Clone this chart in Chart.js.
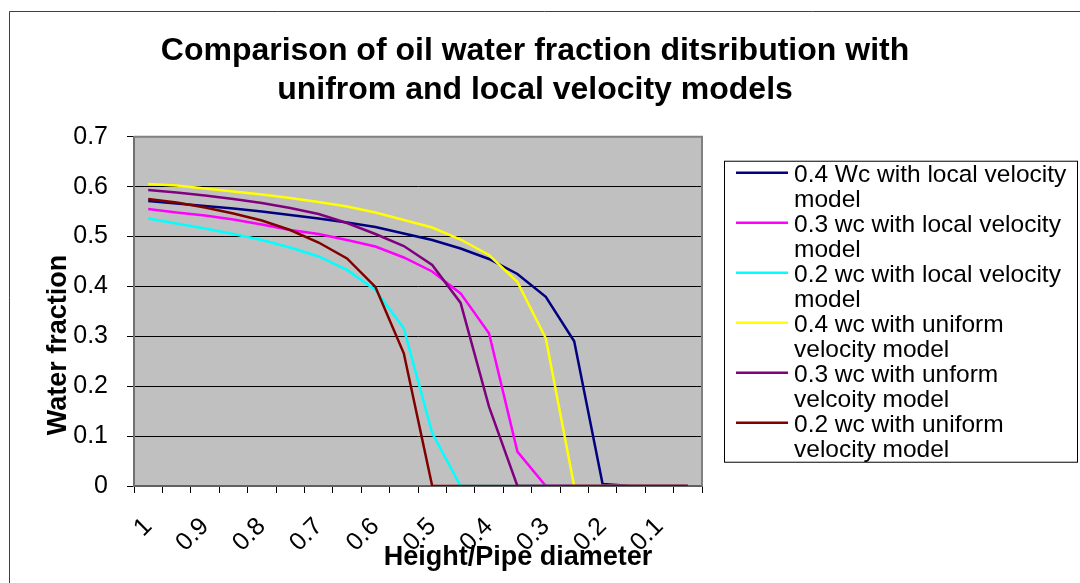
<!DOCTYPE html>
<html>
<head>
<meta charset="utf-8">
<script src="https://cdn.jsdelivr.net/npm/chart.js@4.4.1/dist/chart.umd.min.js"></script>
<style>
  html, body { margin: 0; padding: 0; background: #fff; }
  #wrap { width: 1080px; height: 583px; position: relative; }
  canvas { display: block; }
</style>
</head>
<body>
<div id="wrap"><canvas id="chart" width="1080" height="583"></canvas></div>
<script>
// Height / pipe diameter categories (every other one is labelled on the axis)
const heightRatios = ['1', '0.95', '0.9', '0.85', '0.8', '0.75', '0.7', '0.65', '0.6', '0.55',
                      '0.5', '0.45', '0.4', '0.35', '0.3', '0.25', '0.2', '0.15', '0.1', '0.05'];

// Water fraction per category for each case
const wc04Local   = [0.571, 0.566, 0.561, 0.556, 0.550, 0.543, 0.536, 0.528, 0.519, 0.506,
                     0.493, 0.476, 0.455, 0.425, 0.379, 0.290, 0.004, 0, 0, 0];
const wc03Local   = [0.555, 0.548, 0.542, 0.534, 0.524, 0.513, 0.505, 0.493, 0.480, 0.458,
                     0.430, 0.386, 0.306, 0.069, 0, 0, 0, 0, 0, 0];
const wc02Local   = [0.536, 0.526, 0.516, 0.505, 0.493, 0.478, 0.460, 0.433, 0.393, 0.316,
                     0.106, 0, 0, 0, 0, 0, 0, 0, 0, 0];
const wc04Uniform = [0.605, 0.602, 0.596, 0.590, 0.584, 0.577, 0.569, 0.560, 0.548, 0.533,
                     0.518, 0.494, 0.463, 0.409, 0.296, 0, 0, 0, 0, 0];
const wc03Uniform = [0.593, 0.588, 0.582, 0.575, 0.567, 0.557, 0.545, 0.527, 0.505, 0.481,
                     0.443, 0.367, 0.159, 0, 0, 0, 0, 0, 0, 0];
const wc02Uniform = [0.575, 0.568, 0.558, 0.546, 0.532, 0.513, 0.488, 0.456, 0.399, 0.266,
                     0, 0, 0, 0, 0, 0, 0, 0, 0, 0];

// Legend text, wrapped the way it appears in the legend box
const seriesLabels = [
  ['0.4 Wc with local velocity', 'model'],
  ['0.3 wc with local velocity', 'model'],
  ['0.2 wc with local velocity', 'model'],
  ['0.4 wc with uniform', 'velocity model'],
  ['0.3 wc with unform', 'velcoity model'],
  ['0.2 wc with uniform', 'velocity model']
];
const seriesValues = [wc04Local, wc03Local, wc02Local, wc04Uniform, wc03Uniform, wc02Uniform];
const seriesColors = ['#000080', '#FF00FF', '#00FFFF', '#FFFF00', '#800080', '#800000'];

const yTicks = { min: 0, max: 0.7, step: 0.1 };

const chartTitle = ['Comparison of oil water fraction ditsribution with',
                    'unifrom and local velocity models'];
const yTitle = 'Water fraction';
const xTitle = 'Height/Pipe diameter';

const FONT = "'Liberation Sans', Arial, Helvetica, sans-serif";
const LEGEND_WIDTH = 368;

// Legend drawn in its own layout box to the right of the plot
const boxLegend = {
  id: 'boxLegend',
  start(chart) {
    const box = {
      position: 'right', weight: 0, fullSize: false, options: {},
      left: 0, top: 0, right: 0, bottom: 0, width: 0, height: 0,
      isHorizontal() { return false; },
      update(maxWidth, maxHeight) { this.width = LEGEND_WIDTH; this.height = maxHeight; },
      draw() {
        const ctx = chart.ctx;
        const x0 = this.left + 22, y0 = this.top + 24;
        ctx.save();
        ctx.fillStyle = '#fff';
        ctx.fillRect(x0, y0, 353, 301);
        ctx.strokeStyle = '#000';
        ctx.lineWidth = 1;
        ctx.strokeRect(x0 + 0.5, y0 + 0.5, 353, 301);
        ctx.font = '24.5px ' + FONT;
        ctx.textAlign = 'left';
        ctx.textBaseline = 'alphabetic';
        chart.data.datasets.forEach((ds, i) => {
          const yl = y0 + 12 + 50 * i;
          ctx.strokeStyle = ds.borderColor;
          ctx.lineWidth = 2.5;
          ctx.beginPath();
          ctx.moveTo(x0 + 12, yl);
          ctx.lineTo(x0 + 64, yl);
          ctx.stroke();
          ctx.fillStyle = '#000';
          seriesLabels[i].forEach((line, k) => {
            ctx.fillText(line, x0 + 70, y0 + 21 + 50 * i + 25 * k);
          });
        });
        ctx.restore();
      }
    };
    Chart.layouts.addBox(chart, box);
  }
};

// Chart frame, grey plot area and axis titles
const plotFrame = {
  id: 'plotFrame',
  beforeDraw(chart) {
    const { ctx, chartArea: a } = chart;
    ctx.save();
    ctx.fillStyle = '#fff';
    ctx.fillRect(0, 0, chart.width, chart.height);
    ctx.fillStyle = '#C0C0C0';
    ctx.fillRect(a.left, a.top, a.right - a.left, a.bottom - a.top);
    ctx.strokeStyle = '#404040';
    ctx.lineWidth = 1;
    ctx.beginPath();
    ctx.moveTo(9.5, chart.height);
    ctx.lineTo(9.5, 11.5);
    ctx.lineTo(chart.width, 11.5);
    ctx.stroke();
    ctx.restore();
  },
  beforeDatasetsDraw(chart) {
    const { ctx, chartArea: a } = chart;
    ctx.save();
    ctx.strokeStyle = '#808080';
    ctx.lineWidth = 2;
    ctx.beginPath();
    ctx.moveTo(a.left, a.top);
    ctx.lineTo(a.right, a.top);
    ctx.lineTo(a.right, a.bottom);
    ctx.stroke();
    ctx.restore();
  },
  afterDraw(chart) {
    const { ctx } = chart;
    ctx.save();
    ctx.fillStyle = '#000';
    ctx.font = 'bold 27px ' + FONT;
    ctx.textAlign = 'center';
    ctx.textBaseline = 'middle';
    ctx.translate(59, 345);
    ctx.rotate(-Math.PI / 2);
    ctx.fillText(yTitle, 0, 0);
    ctx.restore();
    ctx.save();
    ctx.fillStyle = '#000';
    ctx.font = 'bold 27px ' + FONT;
    ctx.textAlign = 'center';
    ctx.textBaseline = 'middle';
    ctx.fillText(xTitle, 518, 558);
    ctx.restore();
  }
};

const datasets = seriesValues.map((vals, i) => ({
  label: seriesLabels[i].join(' '),
  data: vals,
  borderColor: seriesColors[i],
  backgroundColor: seriesColors[i],
  borderWidth: 2.5,
  pointRadius: 0,
  tension: 0,
  fill: false,
  order: seriesValues.length - i
}));

new Chart(document.getElementById('chart'), {
  type: 'line',
  data: { labels: heightRatios, datasets },
  options: {
    responsive: false,
    animation: false,
    devicePixelRatio: 1,
    layout: { padding: { left: 0, right: 10, top: 0, bottom: 0 } },
    plugins: {
      legend: { display: false },
      tooltip: { enabled: false },
      title: {
        display: true,
        text: chartTitle,
        color: '#000',
        font: { family: FONT, size: 32, weight: 'bold', lineHeight: 1.23 },
        padding: { top: 31, bottom: 27 }
      }
    },
    scales: {
      x: {
        type: 'category',
        offset: true,
        grid: {
          display: true, offset: true, drawOnChartArea: false, drawTicks: true,
          tickLength: 7, tickColor: '#000', lineWidth: 1
        },
        border: { display: true, color: '#606060', width: 2 },
        ticks: {
          autoSkip: false, maxRotation: 45, minRotation: 45, padding: 19,
          color: '#000', font: { family: FONT, size: 25 },
          callback(v, i) { return i % 2 === 0 ? this.getLabelForValue(v) : ''; }
        },
        afterFit(s) { s.height = 97; }
      },
      y: {
        min: yTicks.min, max: yTicks.max,
        ticks: { stepSize: yTicks.step, padding: 19, color: '#000', font: { family: FONT, size: 25 } },
        grid: {
          color: (c) => (c.tick && c.tick.value > yTicks.max - 1e-6) ? 'rgba(0,0,0,0)' : '#000',
          tickColor: '#000', tickLength: 7, lineWidth: 1
        },
        border: { color: '#707070', width: 2 },
        afterFit(s) { s.width = 134; }
      }
    }
  },
  plugins: [boxLegend, plotFrame]
});
</script>
</body>
</html>
